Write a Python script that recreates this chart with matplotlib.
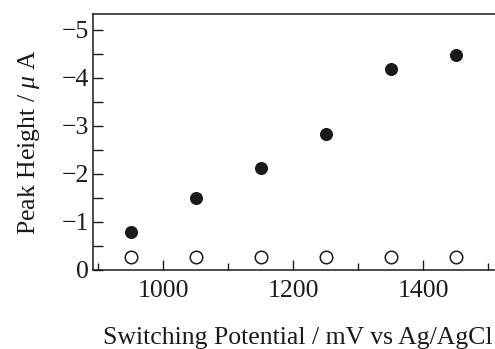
import matplotlib
matplotlib.use("Agg")
import matplotlib.pyplot as plt
from matplotlib.ticker import MultipleLocator

potential = [950, 1050, 1150, 1250, 1350, 1450]
peak_filled = [-0.80, -1.49, -2.12, -2.83, -4.19, -4.48]
peak_open = [-0.28, -0.28, -0.28, -0.28, -0.28, -0.28]

plt.rcParams['font.family'] = ['Liberation Serif', 'DejaVu Serif']
plt.rcParams['mathtext.fontset'] = 'custom'
plt.rcParams['mathtext.it'] = 'Liberation Serif:italic'
plt.rcParams['mathtext.rm'] = 'Liberation Serif'

fig = plt.figure(figsize=(4.95, 3.49), dpi=100)
ax = fig.add_axes([0.188, 0.2264, 0.812, 0.7336])

ax.plot(potential, peak_filled, 'o', color='#1a1a1a', markersize=9.4, markeredgewidth=0, clip_on=False)
ax.plot(potential, peak_open, 'o', markerfacecolor='white', markeredgecolor='#1a1a1a',
        markersize=9.0, markeredgewidth=1.1, clip_on=False)

ax.set_xlim(892, 1510)
ax.set_ylim(0, -5.33)

ax.spines['right'].set_visible(False)
for s in ['left', 'bottom', 'top']:
    ax.spines[s].set_linewidth(1.1)
    ax.spines[s].set_color('#1a1a1a')

ax.xaxis.set_major_locator(MultipleLocator(200))
ax.xaxis.set_minor_locator(MultipleLocator(100))
ax.yaxis.set_major_locator(MultipleLocator(1))
ax.yaxis.set_minor_locator(MultipleLocator(0.5))

ax.tick_params(axis='both', which='both', direction='in', top=False, right=False,
               labelsize=18.5, colors='#1a1a1a', width=1.0)
ax.tick_params(axis='x', which='major', length=7, pad=7)
ax.tick_params(axis='x', which='minor', length=5)
ax.tick_params(axis='y', which='major', length=7, pad=3)
ax.tick_params(axis='y', which='minor', length=7)

ax.set_yticks([0, -1, -2, -3, -4, -5])
ax.set_yticklabels(['0', '\u22121', '\u22122', '\u22123', '\u22124', '\u22125'])

ax.set_xlabel('Switching Potential / mV vs Ag/AgCl', fontsize=18.5, labelpad=18, color='#1a1a1a')
ax.xaxis.label.set_x(0.51)
ax.set_ylabel(r'Peak Height / $\mu$ A', fontsize=18.5, labelpad=14, color='#1a1a1a')

fig.savefig('out.png', dpi=100)
